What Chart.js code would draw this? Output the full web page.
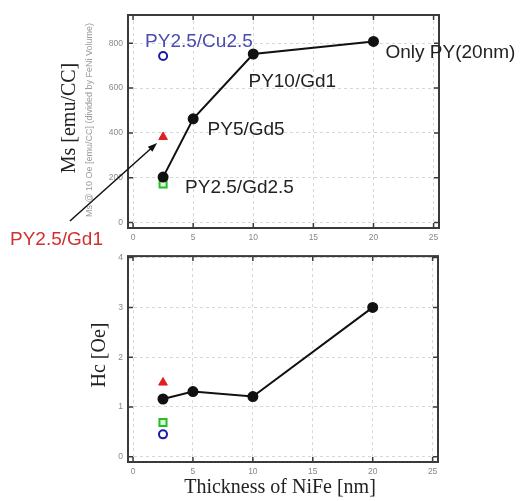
<!DOCTYPE html>
<html><head><meta charset="utf-8">
<script src="https://cdn.jsdelivr.net/npm/chart.js@4.4.1/dist/chart.umd.min.js"></script>
<style>
html,body{margin:0;padding:0;background:#fff;}
#wrap{position:relative;width:524px;height:501px;overflow:hidden;}
canvas{position:absolute;left:0;}
#top{top:0;} #bot{top:246px;}
</style></head><body>
<div id="wrap"><canvas id="top" width="524" height="252"></canvas><canvas id="bot" width="524" height="255"></canvas></div>
<script>
// values
const thickness = [2.5, 5, 10, 20];
const msPY = [203, 463, 752, 808];
const hcPY = [1.16, 1.31, 1.21, 3.0];
const xSingle = [2.5];
const msCu = [743],  hcCu = [0.45];
const msGd1 = [382], hcGd1 = [1.49];
const msGd25 = [172], hcGd25 = [0.69];
const xTicks = [0, 5, 10, 15, 20, 25];
const msTicks = [0, 200, 400, 600, 800];
const hcTicks = [0, 1, 2, 3, 4];

const SANS = '"Liberation Sans", Arial, sans-serif';
const SERIF = '"Liberation Serif", "Times New Roman", serif';

const pts = (xs, ys) => xs.map((x, i) => ({x, y: ys[i]}));

function series(ms) {
  return [
    {data: pts(thickness, ms[0]), showLine: true, borderColor: '#111', borderWidth: 2,
     pointBackgroundColor: '#111', pointBorderColor: '#111', pointRadius: 4.5},
    {data: pts(xSingle, ms[1]), pointStyle: 'circle', pointRadius: 4, pointBorderWidth: 2,
     pointBorderColor: '#1a1aa8', pointBackgroundColor: '#fff'},
    {data: pts(xSingle, ms[2]), pointStyle: 'triangle', pointRadius: 5,
     pointBorderColor: '#e02020', pointBackgroundColor: '#e02020'},
    {data: pts(xSingle, ms[3]), pointStyle: 'rect', pointRadius: 5, pointBorderWidth: 2,
     pointBorderColor: '#22c022', pointBackgroundColor: '#d8ffd8'}
  ];
}

function frame(chart) {
  const {ctx, chartArea: a, scales: {x, y}} = chart;
  ctx.save();
  ctx.strokeStyle = '#3a3a3a';
  ctx.lineWidth = 1.5;
  x.ticks.forEach(t => {
    const px = x.getPixelForValue(t.value);
    ctx.beginPath();
    ctx.moveTo(px, a.top); ctx.lineTo(px, a.top + 5);
    ctx.moveTo(px, a.bottom); ctx.lineTo(px, a.bottom - 5);
    ctx.stroke();
  });
  y.ticks.forEach(t => {
    const py = y.getPixelForValue(t.value);
    ctx.beginPath();
    ctx.moveTo(a.left, py); ctx.lineTo(a.left + 5, py);
    ctx.moveTo(a.right, py); ctx.lineTo(a.right - 5, py);
    ctx.stroke();
  });
  ctx.lineWidth = 2;
  ctx.strokeRect(a.left, a.top, a.right - a.left, a.bottom - a.top);
  ctx.restore();
}

function vtext(ctx, s, cx, cy, font, color) {
  ctx.save();
  ctx.translate(cx, cy);
  ctx.rotate(-Math.PI / 2);
  ctx.font = font; ctx.fillStyle = color;
  ctx.textAlign = 'center'; ctx.textBaseline = 'middle';
  ctx.fillText(s, 0, 0);
  ctx.restore();
}

function axes(yTicks, ymin, ymax, xh) {
  return {
    x: {type: 'linear', min: -0.42, max: 25.45,
        afterBuildTicks: s => { s.ticks = xTicks.map(v => ({value: v})); },
        afterFit: s => { s.height = xh; },
        border: {display: false, dash: [3, 3]},
        grid: {color: '#d8d8d8', drawTicks: false},
        ticks: {padding: 5, color: '#888', font: {family: SANS, size: 8.5}}},
    y: {type: 'linear', min: ymin, max: ymax,
        afterBuildTicks: s => { s.ticks = yTicks.map(v => ({value: v})); },
        afterFit: s => { s.width = 128; },
        border: {display: false, dash: [3, 3]},
        grid: {color: '#d8d8d8', drawTicks: false},
        ticks: {padding: 5, color: '#888', font: {family: SANS, size: 8.5}}}
  };
}

const base = {
  responsive: false, animation: false,
  plugins: {legend: {display: false}, tooltip: {enabled: false}}
};

// Ms chart
new Chart(document.getElementById('top'), {
  type: 'scatter',
  data: {datasets: series([msPY, msCu, msGd1, msGd25])},
  options: {...base,
    layout: {padding: {left: 0, right: 85, top: 15, bottom: 0}},
    scales: axes(msTicks, -24, 926, 24)},
  plugins: [{id: 'decorTop', afterDraw(chart) {
    frame(chart);
    const {ctx, scales: {x, y}} = chart;
    const X = v => x.getPixelForValue(v), Y = v => y.getPixelForValue(v);
    ctx.save();
    ctx.textBaseline = 'middle'; ctx.textAlign = 'left';
    ctx.font = '19px ' + SANS;
    ctx.fillStyle = '#4b4bb0'; ctx.fillText('PY2.5/Cu2.5', X(1.0), Y(806));
    ctx.fillStyle = '#222';
    ctx.fillText('Only PY(20nm)', X(21.0), Y(757));
    ctx.fillText('PY10/Gd1', X(9.6), Y(627));
    ctx.fillText('PY5/Gd5', X(6.2), Y(413));
    ctx.fillText('PY2.5/Gd2.5', X(4.33), Y(155));
    ctx.fillStyle = '#d03030'; ctx.fillText('PY2.5/Gd1', 10, Y(-77));
    // arrow to the triangle
    const x0 = X(-5.25), y0 = Y(7), x1 = X(2.0), y1 = Y(355);
    const ang = Math.atan2(y1 - y0, x1 - x0);
    ctx.strokeStyle = '#111'; ctx.fillStyle = '#111'; ctx.lineWidth = 1.5;
    ctx.beginPath(); ctx.moveTo(x0, y0); ctx.lineTo(x1 - 6 * Math.cos(ang), y1 - 6 * Math.sin(ang)); ctx.stroke();
    ctx.beginPath();
    ctx.moveTo(x1, y1);
    ctx.lineTo(x1 - 10 * Math.cos(ang - 0.35), y1 - 10 * Math.sin(ang - 0.35));
    ctx.lineTo(x1 - 10 * Math.cos(ang + 0.35), y1 - 10 * Math.sin(ang + 0.35));
    ctx.closePath(); ctx.fill();
    ctx.restore();
    vtext(ctx, 'Ms [emu/CC]', 70, 118, '20px ' + SERIF, '#222');
    vtext(ctx, 'Ms @ 10 Oe [emu/CC] (divided by FeNi Volume)', 90, 120, '9px ' + SANS, '#9a9a9a');
  }}]
});

// Hc chart
new Chart(document.getElementById('bot'), {
  type: 'scatter',
  data: {datasets: series([hcPY, hcCu, hcGd1, hcGd25])},
  options: {...base,
    layout: {padding: {left: 0, right: 86, top: 7, bottom: 0}},
    scales: axes(hcTicks, -0.105, 4.03, 39)},
  plugins: [{id: 'decorBot', afterDraw(chart) {
    frame(chart);
    const {ctx} = chart;
    vtext(ctx, 'Hc [Oe]', 100, 109, '20px ' + SERIF, '#222');
    ctx.save();
    ctx.font = '20px ' + SERIF; ctx.fillStyle = '#222';
    ctx.textAlign = 'center'; ctx.textBaseline = 'middle';
    ctx.fillText('Thickness of NiFe [nm]', 280, 242);
    ctx.restore();
  }}]
});
</script>
</body></html>
